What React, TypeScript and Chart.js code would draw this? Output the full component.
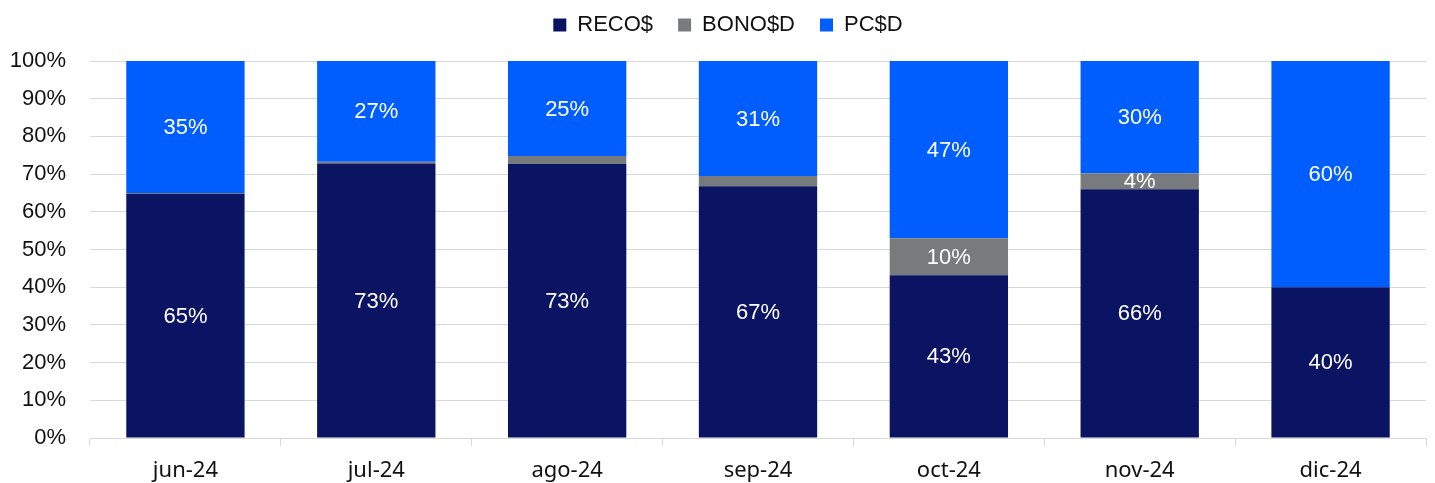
import React, { useEffect, useRef } from "react";
import { Chart, registerables } from "chart.js";

Chart.register(...registerables);

const categories = ["jun-24", "jul-24", "ago-24", "sep-24", "oct-24", "nov-24", "dic-24"];
const recoValues = [64.7, 72.8, 72.7, 66.8, 43.2, 66.0, 40.0];
const bonoValues = [0.3, 0.5, 2.1, 2.7, 9.8, 4.2, 0.0];
const pcValues = [35.0, 26.7, 25.2, 30.5, 47.0, 29.8, 60.0];
const yTicks = [0, 10, 20, 30, 40, 50, 60, 70, 80, 90, 100];

const labelPlugin = {
  id: "segLabels",
  afterDatasetsDraw(chart: any) {
    const ctx = chart.ctx;
    ctx.save();
    ctx.fillStyle = "#ffffff";
    ctx.font = '22px "Liberation Sans", Arial, sans-serif';
    ctx.textAlign = "center";
    ctx.textBaseline = "middle";
    chart.data.datasets.forEach((ds: any, di: number) => {
      const meta = chart.getDatasetMeta(di);
      meta.data.forEach((bar: any, i: number) => {
        const v = ds.data[i];
        if (v < 3.5) return;
        const y = (bar.y + bar.base) / 2;
        ctx.fillText(Math.round(v) + "%", bar.x, y + 1);
      });
    });
    ctx.restore();
  },
};

const legendFitPlugin = {
  id: "legendFit",
  beforeLayout(chart: any) {
    const l = chart.legend;
    if (l && !l._fitPatched) {
      const origFit = l.fit;
      l.fit = function (this: any) {
        origFit.call(this);
        this.height = 74;
      };
      const origDraw = l.draw;
      l.draw = function (this: any) {
        const ctx = this.ctx;
        ctx.save();
        ctx.translate(15, 2);
        origDraw.call(this);
        ctx.restore();
      };
      l._fitPatched = true;
    }
  },
};

export default function App() {
  const ref = useRef<HTMLCanvasElement | null>(null);
  useEffect(() => {
    if (!ref.current) return;
    const chart = new Chart(ref.current, {
      type: "bar",
      data: {
        labels: categories,
        datasets: [
          { label: "RECO$", data: recoValues, backgroundColor: "#0a1463", barPercentage: 0.62, categoryPercentage: 1 },
          { label: "BONO$D", data: bonoValues, backgroundColor: "#787b7d", barPercentage: 0.62, categoryPercentage: 1 },
          { label: "PC$D", data: pcValues, backgroundColor: "#005eff", barPercentage: 0.62, categoryPercentage: 1 },
        ],
      },
      options: {
        responsive: false,
        animation: false,
        layout: { padding: { left: 0, right: 9, top: -13, bottom: 0 } },
        plugins: {
          legend: {
            position: "top",
            labels: {
              boxWidth: 13,
              boxHeight: 13,
              padding: 25,
              color: "#111111",
              font: { family: '"Liberation Sans", Arial, sans-serif', size: 22 },
            },
          },
          tooltip: { enabled: false },
        },
        scales: {
          x: {
            stacked: true,
            grid: { drawOnChartArea: false, drawTicks: true, tickLength: 8, color: "#d9d9d9", offset: true },
            border: { display: true, color: "#d9d9d9", width: 1 },
            ticks: {
              color: "#111111",
              padding: 12,
              font: { family: '"Noto Sans", sans-serif', size: 22 },
            },
            afterFit(scale: any) {
              scale.height = 45;
            },
          },
          y: {
            stacked: true,
            min: 0,
            max: 100,
            afterBuildTicks(scale: any) {
              scale.ticks = yTicks.map((v) => ({ value: v }));
            },
            grid: { drawTicks: false, color: "#d9d9d9", lineWidth: 1 },
            border: { display: false },
            ticks: {
              color: "#111111",
              padding: 24,
              font: { family: '"Liberation Sans", Arial, sans-serif', size: 22 },
              callback: (v: any) => v + "%",
            },
            afterFit(scale: any) {
              scale.width = 90;
            },
          },
        },
      },
      plugins: [labelPlugin, legendFitPlugin],
    });
    return () => chart.destroy();
  }, []);
  return (
    <div style={{ position: "fixed", left: 0, top: 0, width: 1435, height: 483, background: "#fff" }}>
      <canvas ref={ref} width={1435} height={483} style={{ width: 1435, height: 483 }} />
    </div>
  );
}
